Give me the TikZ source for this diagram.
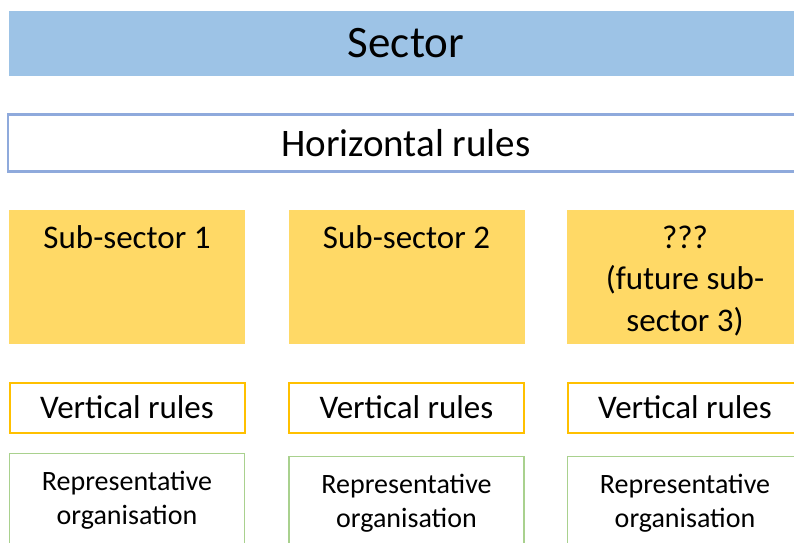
\documentclass[tikz,border=0pt]{standalone}
\usepackage{fontspec}
\setmainfont{Carlito}
\usepackage{xcolor}
\usepackage{tikz}

\definecolor{sectorblue}{HTML}{9DC3E6}
\definecolor{rulesblue}{HTML}{8FAADC}
\definecolor{subgold}{HTML}{FFD966}
\definecolor{vertorange}{HTML}{FFC000}
\definecolor{orggreen}{HTML}{A9D18E}

\begin{document}
\begin{tikzpicture}
  [x=1pt,y=-1pt,every node/.style={rectangle,inner sep=0pt,align=center},
   sector/.style={fill=sectorblue,minimum width=794pt,minimum height=65pt,font=\fontsize{45}{54}\selectfont},
   horiz/.style={draw=rulesblue,line width=2.5pt,fill=white,minimum width=796pt,minimum height=57pt,font=\fontsize{39}{47}\selectfont},
   subsec/.style={fill=subgold,minimum width=236pt,anchor=north,text height=38pt,text depth=96pt,font=\fontsize{33}{41.5}\selectfont},
   subsecthree/.style={subsec,text height=121pt,text depth=13pt},
   vert/.style={draw=vertorange,line width=2pt,minimum width=235pt,minimum height=50pt,font=\fontsize{33}{40}\selectfont},
   rep/.style={draw=orggreen,line width=1.3pt,minimum width=235pt,anchor=north,text height=71pt,text depth=50pt,font=\fontsize{28}{34}\selectfont}]
  \useasboundingbox (0,0) rectangle (794,542);
  \clip (0,0) rectangle (794,542);

  \node[sector] (sector) at (406,43.5) {Sector};
  \node[horiz] (horiz) at (406,143) {Horizontal rules};

  \node[subsec] (sub1) at (127,210) {Sub-sector 1};
  \node[subsec] (sub2) at (406.5,210) {Sub-sector 2};
  \node[subsecthree] (sub3) at (685,210) {???\\(future sub-\\sector 3)};

  \foreach \i/\x/\r in {1/127/453, 2/406.5/456, 3/685/456}
  {
    \node[vert] (vert\i) at (\x,407.5) {Vertical rules};
    \node[rep] (rep\i) at (\x,\r) {Representative\\organisation};
  }

\end{tikzpicture}
\end{document}
